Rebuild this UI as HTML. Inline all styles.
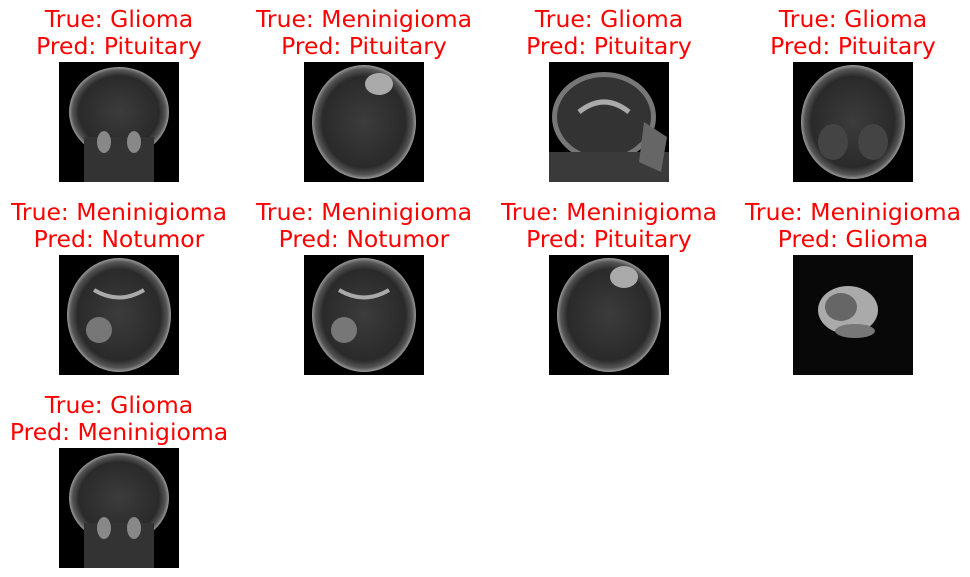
<!DOCTYPE html>
<html><head><meta charset="utf-8"><style>
body{margin:0;background:#fff;width:970px;height:577px;overflow:hidden;position:relative;font-family:"DejaVu Sans","Liberation Sans",sans-serif}
.t{position:absolute;width:260px;text-align:center;color:#ff0000;font-size:23.5px;line-height:27px;white-space:nowrap}
.img{position:absolute;width:120px;height:120px;background:#000}
</style></head><body>
<div id="root"></div>
<script>
const trueLabels=["Glioma","Meninigioma","Glioma","Glioma","Meninigioma","Meninigioma","Meninigioma","Meninigioma","Glioma"];
const predLabels=["Pituitary","Pituitary","Pituitary","Pituitary","Notumor","Notumor","Pituitary","Glioma","Meninigioma"];
const views=["coronal","axial-bright","sagittal","axial-low","axial-tumor","axial-tumor","axial-bright","small","coronal2"];
const colX=[59,304,549,793], rowY=[62,255,448];
const root=document.getElementById('root');
function brain(v){
  let s='<svg width="120" height="120" viewBox="0 0 120 120"><defs><radialGradient id="g" cx="50%" cy="50%" r="50%"><stop offset="0" stop-color="#3c3c3c"/><stop offset="0.8" stop-color="#2a2a2a"/><stop offset="0.93" stop-color="#555"/><stop offset="1" stop-color="#999"/></radialGradient></defs>';
  if(v==="sagittal"){
    s+='<ellipse cx="55" cy="55" rx="52" ry="45" fill="#777"/><ellipse cx="55" cy="55" rx="47" ry="40" fill="#333"/><path d="M30 50 Q55 30 80 50" stroke="#aaa" stroke-width="5" fill="none"/><rect x="0" y="90" width="120" height="30" fill="#3a3a3a"/><path d="M95 60 L118 75 L112 110 L90 100 Z" fill="#666"/>';
  } else if(v==="small"){
    s+='<rect width="120" height="120" fill="#080808"/><ellipse cx="55" cy="55" rx="30" ry="24" fill="#aaa"/><ellipse cx="48" cy="52" rx="16" ry="14" fill="#666"/><ellipse cx="62" cy="76" rx="20" ry="7" fill="#777"/>';
  } else if(v.startsWith("coronal")){
    s+='<ellipse cx="60" cy="50" rx="50" ry="45" fill="url(#g)"/><rect x="25" y="75" width="70" height="45" fill="#333"/><ellipse cx="45" cy="80" rx="7" ry="11" fill="#888"/><ellipse cx="75" cy="80" rx="7" ry="11" fill="#888"/>';
  } else {
    s+='<ellipse cx="60" cy="60" rx="52" ry="57" fill="url(#g)"/>';
    if(v==="axial-bright") s+='<ellipse cx="75" cy="22" rx="14" ry="11" fill="#aaa"/>';
    if(v==="axial-tumor") s+='<circle cx="40" cy="75" r="13" fill="#777"/><path d="M35 35 Q60 50 85 35" stroke="#aaa" stroke-width="4" fill="none"/>';
    if(v==="axial-low") s+='<ellipse cx="40" cy="80" rx="15" ry="18" fill="#444"/><ellipse cx="80" cy="80" rx="15" ry="18" fill="#444"/>';
  }
  return s+'</svg>';
}
for(let i=0;i<trueLabels.length;i++){
  const c=i%4,r=Math.floor(i/4);
  const t=document.createElement('div');
  t.className='t';
  
  
  t.style.left=(colX[c]+60-130)+'px';
  t.style.top=(rowY[r]-56)+'px';
  t.innerHTML='True: '+trueLabels[i]+'<br>Pred: '+predLabels[i];
  root.appendChild(t);
  const im=document.createElement('div');
  im.className='img';
  
  
  im.style.left=colX[c]+'px';
  im.style.top=rowY[r]+'px';
  im.innerHTML=brain(views[i]);
  root.appendChild(im);
}
</script>
</body></html>
